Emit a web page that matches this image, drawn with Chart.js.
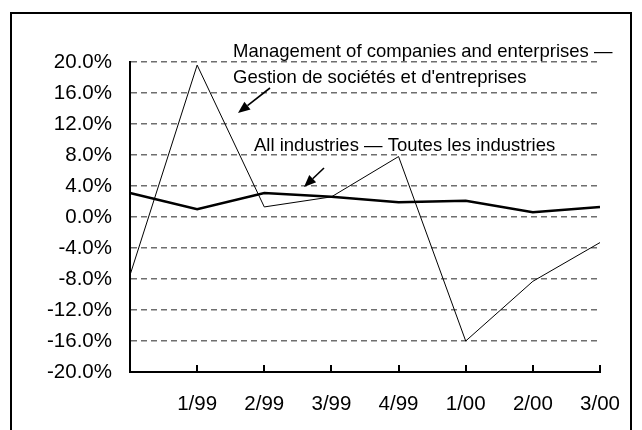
<!DOCTYPE html>
<html>
<head>
<meta charset="utf-8">
<script src="https://cdn.jsdelivr.net/npm/chart.js@4"></script>
<style>
  html, body { margin: 0; padding: 0; background: #fff; }
</style>
</head>
<body>
<canvas id="chart" width="642" height="430"></canvas>
<script>
// Quarterly % change, first point is 4/98 (left unlabeled on the axis)
const quarters = ['', '1/99', '2/99', '3/99', '4/99', '1/00', '2/00', '3/00'];
const managementPct = [-7.5, 19.6, 1.3, 2.6, 7.8, -16.0, -8.3, -3.3];
const allIndustriesPct = [3.1, 1.0, 3.1, 2.6, 1.9, 2.1, 0.6, 1.3];
const yMin = -20, yMax = 20, yStep = 4;

const FONT = '"Liberation Sans", Arial, sans-serif';

function arrow(ctx, x1, y1, x2, y2) {
  const ang = Math.atan2(y2 - y1, x2 - x1);
  const head = 12, half = 5;
  const bx = x2 - head * Math.cos(ang), by = y2 - head * Math.sin(ang);
  ctx.beginPath();
  ctx.moveTo(x1, y1);
  ctx.lineTo(bx, by);
  ctx.lineWidth = 1.6;
  ctx.stroke();
  ctx.beginPath();
  ctx.moveTo(x2, y2);
  ctx.lineTo(bx + half * Math.sin(ang), by - half * Math.cos(ang));
  ctx.lineTo(bx - half * Math.sin(ang), by + half * Math.cos(ang));
  ctx.closePath();
  ctx.fill();
}

// outer frame around the figure
const frame = {
  id: 'frame',
  beforeDraw(chart) {
    const ctx = chart.ctx;
    ctx.save();
    ctx.fillStyle = '#fff';
    ctx.fillRect(0, 0, chart.width, chart.height);
    ctx.strokeStyle = '#000';
    ctx.lineWidth = 2;
    ctx.beginPath();
    ctx.moveTo(11, 440);
    ctx.lineTo(11, 13);
    ctx.lineTo(631, 13);
    ctx.lineTo(631, 440);
    ctx.stroke();
    ctx.restore();
  }
};

// tick marks pointing up into the plot from the x axis
const innerTicks = {
  id: 'innerTicks',
  afterDraw(chart) {
    const ctx = chart.ctx;
    const x = chart.scales.x;
    const bottom = chart.chartArea.bottom;
    ctx.save();
    ctx.strokeStyle = '#000';
    ctx.lineWidth = 2;
    for (let i = 1; i < quarters.length; i++) {
      const px = Math.round(x.getPixelForTick(i));
      ctx.beginPath();
      ctx.moveTo(px, bottom);
      ctx.lineTo(px, bottom - 7);
      ctx.stroke();
    }
    ctx.restore();
  }
};

// series captions with pointer arrows
const captions = {
  id: 'captions',
  afterDraw(chart) {
    const ctx = chart.ctx;
    ctx.save();
    ctx.fillStyle = '#000';
    ctx.strokeStyle = '#000';
    ctx.font = '18.5px ' + FONT;
    ctx.textAlign = 'left';
    ctx.textBaseline = 'alphabetic';
    ctx.fillText('Management of companies and enterprises —', 233, 57);
    ctx.fillText('Gestion de sociétés et d\'entreprises', 233, 83);
    ctx.fillText('All industries — Toutes les industries', 254, 151);
    arrow(ctx, 270, 88, 238, 113);
    arrow(ctx, 324, 168, 304, 187);
    ctx.restore();
  }
};

new Chart(document.getElementById('chart'), {
  type: 'line',
  data: {
    labels: quarters,
    datasets: [
      {
        label: 'Management of companies and enterprises',
        data: managementPct,
        borderColor: '#000',
        borderWidth: 1,
        pointRadius: 0,
        tension: 0
      },
      {
        label: 'All industries',
        data: allIndustriesPct,
        borderColor: '#000',
        borderWidth: 2.5,
        pointRadius: 0,
        tension: 0
      }
    ]
  },
  options: {
    responsive: false,
    animation: false,
    devicePixelRatio: 1,
    layout: { padding: { top: 62, right: 42, left: 0, bottom: 0 } },
    plugins: {
      legend: { display: false },
      tooltip: { enabled: false }
    },
    scales: {
      x: {
        offset: false,
        afterFit: s => { s.height = 58; },
        grid: { display: false, drawTicks: false },
        border: { display: true, color: '#000', width: 2 },
        ticks: {
          autoSkip: false,
          maxRotation: 0,
          padding: 20,
          color: '#000',
          font: { family: FONT, size: 20.5 }
        }
      },
      y: {
        min: yMin,
        max: yMax,
        afterFit: s => { s.width = 130; },
        grid: {
          drawTicks: false,
          lineWidth: 1.6,
          color: c => (c.tick && c.tick.value === yMin) ? 'rgba(0,0,0,0)' : '#6e6e6e'
        },
        border: { display: true, color: '#000', width: 2, dash: [6, 4] },
        ticks: {
          stepSize: yStep,
          padding: 18,
          color: '#000',
          font: { family: FONT, size: 20.5 },
          callback: v => v.toFixed(1) + '%'
        }
      }
    }
  },
  plugins: [frame, innerTicks, captions]
});
</script>
</body>
</html>
